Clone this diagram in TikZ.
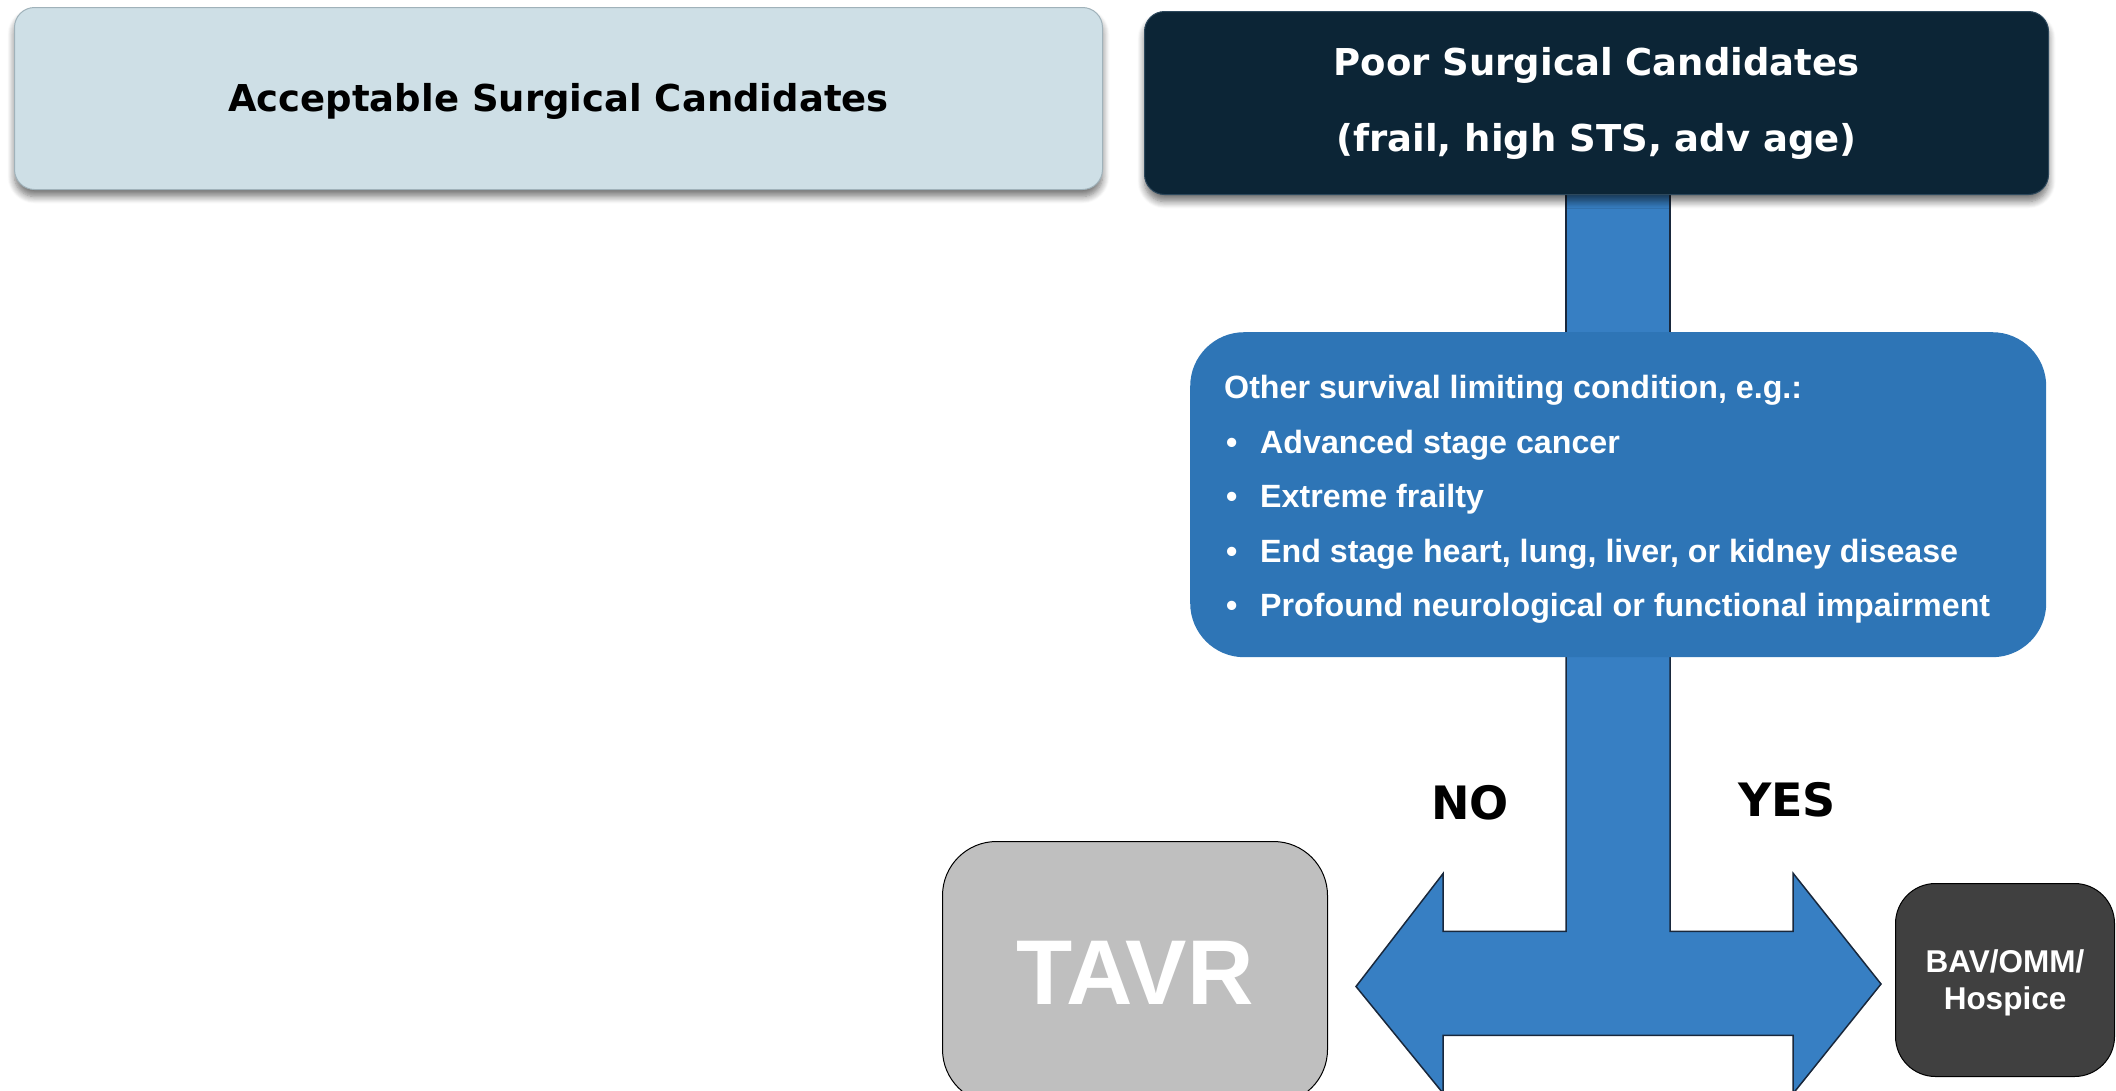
\documentclass[tikz,border=0pt]{standalone}
\usepackage{fontspec}
\setmainfont{Liberation Sans}
\newfontfamily\verd{DejaVu Sans}
\usetikzlibrary{calc,shadows.blur,backgrounds}
\definecolor{accfill}{RGB}{206,223,230}
\definecolor{accline}{RGB}{160,178,186}
\definecolor{poorfill}{RGB}{12,37,54}
\definecolor{poorline}{RGB}{45,72,92}
\definecolor{condfill}{RGB}{46,117,182}
\definecolor{arrowfill}{RGB}{55,127,195}
\definecolor{arrowline}{RGB}{25,40,60}
\definecolor{tavrfill}{RGB}{191,191,191}
\definecolor{bavfill}{RGB}{64,64,64}
\newcommand{\lowerby}[2]{\raisebox{-#1}[\height][\depth]{#2}}
\begin{document}
\begin{tikzpicture}[x=1pt,y=-1pt,
  topbox/.style={rectangle, rounded corners=20pt, anchor=north west, inner sep=0pt,
    blur shadow={shadow xshift=0pt, shadow yshift=-7pt, shadow blur steps=8, shadow blur radius=7pt, shadow opacity=55}},
  accbox/.style={topbox, fill=accfill, draw=accline, line width=1pt,
    font=\verd\bfseries\fontsize{37}{44}\selectfont, text=black},
  poorbox/.style={topbox, fill=poorfill, draw=poorline, line width=1pt,
    font=\verd\bfseries\fontsize{37}{76}\selectfont, text=white, align=center},
  condbox/.style={rectangle, rounded corners=54pt, anchor=north west, fill=condfill,
    text=white, font=\bfseries\fontsize{32.2}{54.5}\selectfont, inner sep=0pt},
  endbox/.style={rectangle, anchor=north west, draw=black, line width=1pt, inner sep=0pt, text=white, align=center},
  blockarrow/.style={fill=arrowfill, draw=arrowline, line width=1.5pt, line join=miter},
  answer/.style={font=\verd\bfseries\fontsize{46}{50}\selectfont, text=black}
]
\useasboundingbox (0,0) rectangle (2116,1090);

\node[accbox, minimum width=1088pt, minimum height=182pt] (acc) at (14,7) {\lowerby{3pt}{Acceptable Surgical Candidates}};
\node[poorbox, minimum width=904pt, minimum height=183pt] (poor) at (1144,11) {Poor Surgical Candidates\\(frail, high STS, adv age)};
\node[condbox, minimum width=856pt, minimum height=325pt] (cond) at (1190,332) {\lowerby{5pt}{\begin{minipage}{788pt}\raggedright
Other survival limiting condition, e.g.:\\
\makebox[36pt][l]{\hspace{2pt}\textbullet}Advanced stage cancer\\
\makebox[36pt][l]{\hspace{2pt}\textbullet}Extreme frailty\\
\makebox[36pt][l]{\hspace{2pt}\textbullet}End stage heart, lung, liver, or kidney disease\\
\makebox[36pt][l]{\hspace{2pt}\textbullet}Profound neurological or functional impairment
\end{minipage}}};
\node[endbox, fill=tavrfill, rounded corners=54pt, minimum width=385pt, minimum height=262pt,
  font=\bfseries\fontsize{92}{100}\selectfont] (tavr) at (942,841) {TAVR};
\node[endbox, fill=bavfill, rounded corners=40pt, minimum width=219pt, minimum height=193pt,
  font=\bfseries\fontsize{31.5}{38}\selectfont] (bav) at (1895,883) {\lowerby{3pt}{\begin{tabular}{@{}c@{}}BAV/OMM/\\[-1pt]Hospice\end{tabular}}};

\node[answer] (no) at (1470,803) {NO};
\node[answer] (yes) at (1787,800) {YES};

\begin{pgfonlayer}{background}
  % upper stem from poor box to condition box
  \coordinate (st) at (cond.north |- poor.south);
  \draw[blockarrow] ($(st)+(-52,-4)$) -- ($(cond.north)+(-52,4)$)
    -- ($(cond.north)+(52,4)$) -- ($(st)+(52,-4)$) -- cycle;
  % T-shaped double arrow to TAVR and BAV
  \coordinate (jn) at ($(cond.south)+(0,326)$);
  \draw[blockarrow] ($(cond.south)+(-52,-6)$) -- ($(jn)+(-52,-52)$) -- ($(jn)+(-175,-52)$)
    -- ($(jn)+(-175,-110)$) -- ($(tavr.east)+(28,14)$) -- ($(jn)+(-175,110)$)
    -- ($(jn)+(-175,52)$) -- ($(jn)+(175,52)$) -- ($(jn)+(175,110)$)
    -- ($(bav.west)+(-14,4)$) -- ($(jn)+(175,-110)$) -- ($(jn)+(175,-52)$)
    -- ($(jn)+(52,-52)$) -- ($(cond.south)+(52,-6)$) -- cycle;
\end{pgfonlayer}
\end{tikzpicture}
\end{document}
